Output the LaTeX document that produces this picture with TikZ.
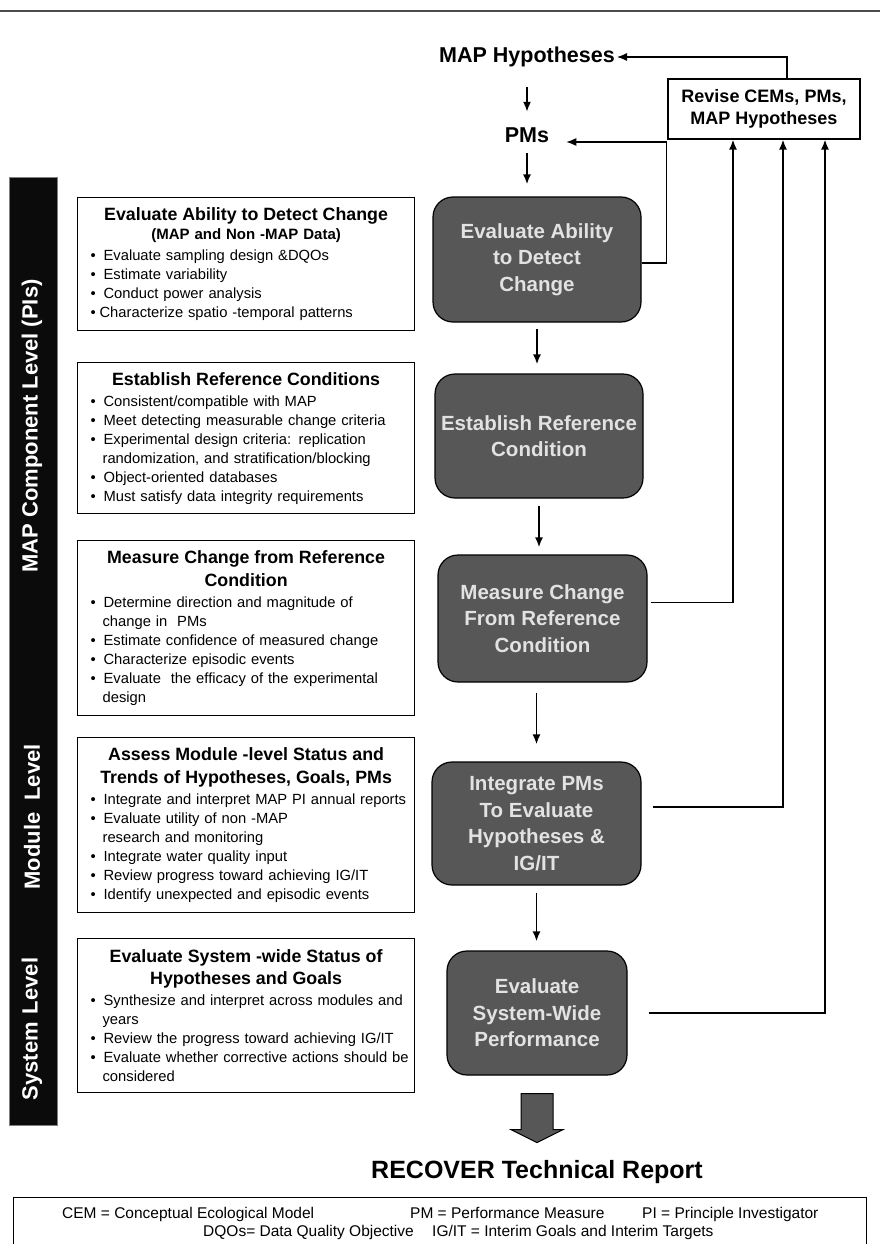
\documentclass[tikz,border=0pt]{standalone}
\usepackage{fontspec}
\setmainfont{Liberation Sans}
\usepackage{tikz}
\usetikzlibrary{arrows.meta}

\definecolor{boxgray}{HTML}{575757}
\definecolor{boxtext}{HTML}{E2E2E2}
\definecolor{barblack}{HTML}{0B0B0B}

\newcommand{\btitle}[1]{\noindent{\centering\bfseries\fontsize{17.8}{22.5}\selectfont #1\par}\vspace{2pt}}
\newcommand{\bitem}[2][16pt]{\par\noindent\hspace*{6pt}\makebox[#1][l]{\hspace{3pt}\textbullet}\mbox{#2}\par}
\newcommand{\bcont}[1]{\par\noindent\hspace*{21pt}\mbox{#1}\par}

\begin{document}
\begin{tikzpicture}[x=1pt, y=-1pt, >={Latex[length=10pt,width=8pt]},
  infobox/.style={draw, line width=1.2pt, anchor=north west, text width=329pt, inner xsep=4pt, inner ysep=0pt, font=\fontsize{14.75}{19}\selectfont},
  stepbox/.style={draw, line width=1.2pt, fill=boxgray, text=boxtext, rounded corners=20pt, align=center, inner sep=0pt, font=\bfseries\fontsize{20.5}{26.5}\selectfont},
  toplabel/.style={inner sep=2pt, font=\bfseries\fontsize{21.5}{25}\selectfont},
  levellabel/.style={rotate=90, text=white, font=\bfseries\fontsize{22}{26}\selectfont},
  legendtext/.style={anchor=base west, inner sep=0pt, font=\fontsize{15.5}{18}\selectfont},
  flow/.style={->, line width=1.8pt},
  back/.style={->, line width=1.6pt}]
    \useasboundingbox (0,0) rectangle (880,1244);
    \path[fill=white] (0,0) rectangle (880,1244);
    \draw[line width=1.5pt, gray!60!black] (0,11) -- (880,11);

    \node[toplabel] (maphyp) at (527,57) {MAP Hypotheses};
    \node[toplabel] (pms) at (527,135.5) {PMs};
    \node[draw, line width=1.2pt, minimum width=192pt, minimum height=60pt, align=center, inner sep=0pt, font=\bfseries\fontsize{18}{22}\selectfont] (revise) at (764,109) {Revise CEMs, PMs,\\MAP Hypotheses};

    \node[fill=barblack, draw=gray, line width=1pt, minimum width=48pt, minimum height=948pt, inner sep=0pt] (bar) at (33,651) {};
    \node[levellabel] (mapcomp) at (32,426) {MAP Component Level (PIs)};
    \node[levellabel] (modlevel) at (32,817) {Module\hspace{12pt}Level};
    \node[levellabel] (syslevel) at (32,1029) {System\hspace{8pt}Level};

    \node[infobox, minimum height=133pt] (detectinfo) at (77,197) {%
      \btitle{Evaluate Ability to Detect Change\\\fontsize{15}{19}\selectfont (MAP and Non -MAP Data)}%
      \bitem{Evaluate sampling design \&DQOs}%
      \bitem{Estimate variability}%
      \bitem{Conduct power analysis}%
      \bitem[12pt]{Characterize spatio -temporal patterns}};
    \node[infobox, minimum height=151pt] (refinfo) at (77,362) {%
      \btitle{Establish Reference Conditions}%
      \bitem{Consistent/compatible with MAP}%
      \bitem{Meet detecting measurable change criteria}%
      \bitem{Experimental design criteria: replication}%
      \bcont{randomization, and stratification/blocking}%
      \bitem{Object-oriented databases}%
      \bitem{Must satisfy data integrity requirements}};
    \node[infobox, minimum height=175pt] (changeinfo) at (77,540) {%
      \btitle{Measure Change from Reference\\Condition}%
      \bitem{Determine direction and magnitude of}%
      \bcont{change in\ \ PMs}%
      \bitem{Estimate confidence of measured change}%
      \bitem{Characterize episodic events}%
      \bitem{Evaluate\ \ the efficacy of the experimental}%
      \bcont{design}};
    \node[infobox, minimum height=175pt] (moduleinfo) at (77,737) {%
      \btitle{Assess Module -level Status and\\Trends of Hypotheses, Goals, PMs}%
      \bitem{Integrate and interpret MAP PI annual reports}%
      \bitem{Evaluate utility of non -MAP}%
      \bcont{research and monitoring}%
      \bitem{Integrate water quality input}%
      \bitem{Review progress toward achieving IG/IT}%
      \bitem{Identify unexpected and episodic events}};
    \node[infobox, minimum height=154pt] (systeminfo) at (77,938) {%
      \btitle{Evaluate System -wide Status of\\Hypotheses and Goals}%
      \bitem{Synthesize and interpret across modules and}%
      \bcont{years}%
      \bitem{Review the progress toward achieving IG/IT}%
      \bitem{Evaluate whether corrective actions should be}%
      \bcont{considered}};

    \node[stepbox, minimum width=208pt, minimum height=125pt] (detect) at (537,259.5) {Evaluate Ability\\to Detect\\Change};
    \node[stepbox, minimum width=208pt, minimum height=124pt] (establish) at (539,436) {Establish Reference\\Condition};
    \node[stepbox, minimum width=209pt, minimum height=127pt] (measure) at (542.5,618.5) {Measure Change\\From Reference\\Condition};
    \node[stepbox, minimum width=209pt, minimum height=123pt] (integrate) at (536.5,823.5) {Integrate PMs\\To Evaluate\\Hypotheses \&\\IG/IT};
    \node[stepbox, minimum width=180pt, minimum height=124pt] (syswide) at (537,1013) {Evaluate\\System-Wide\\Performance};

    \draw[flow, shorten <=18pt, shorten >=14pt] (maphyp.south) -- (pms.north);
    \draw[flow, shorten <=8pt, shorten >=12pt] (pms.south) -- (pms.south |- detect.north);
    \draw[flow, shorten <=6pt, shorten >=9pt] (detect.south) -- (detect.south |- establish.north);
    \draw[flow, shorten <=7pt, shorten >=7pt] (establish.south) -- (establish.south |- measure.north);
    \draw[flow, shorten <=10pt, shorten >=17pt] (integrate.north |- measure.south) -- (integrate.north);
    \draw[flow, shorten <=7pt, shorten >=9pt] (integrate.south) -- (integrate.south |- syswide.north);

    \draw[back, line width=1.2pt] ([xshift=23pt]revise.north) |- (maphyp.east);
    \draw[back, line width=1.2pt, shorten >=15pt] ([yshift=-3.5pt]detect.east) -- ++(25,0) |- ([yshift=-6.5pt]pms.east);
    \draw[back, shorten <=3pt] ([yshift=16pt]measure.east) -| ([xshift=-31pt]revise.south);
    \draw[back, shorten <=11pt] ([yshift=16.5pt]integrate.east) -| ([xshift=19pt]revise.south);
    \draw[back, shorten <=21pt] (syswide.east) -| ([xshift=61pt]revise.south);

    \draw[line width=1pt, fill=boxgray] ([yshift=-18pt]syswide.south) ++(-16,0) -- ++(0,36) -- ++(-10,0) -- ++(26,13) -- ++(26,-13) -- ++(-10,0) -- ++(0,-36) -- cycle;
    \node[font=\bfseries\fontsize{25}{30}\selectfont] (report) at (537,1172) {RECOVER Technical Report};

    \node[draw, line width=1.2pt, minimum width=853pt, minimum height=47pt, anchor=north west, inner sep=0pt] (legend) at (13,1197) {};
    \node[legendtext] (cem) at (62,1218) {CEM = Conceptual Ecological Model};
    \node[legendtext] (pm) at (410,1218) {PM = Performance Measure};
    \node[legendtext] (pi) at (642,1218) {PI = Principle Investigator};
    \node[legendtext] (dqo) at (203,1236) {DQOs= Data Quality Objective};
    \node[legendtext] (igit) at (432,1236) {IG/IT = Interim Goals and Interim Targets};
\end{tikzpicture}
\end{document}
